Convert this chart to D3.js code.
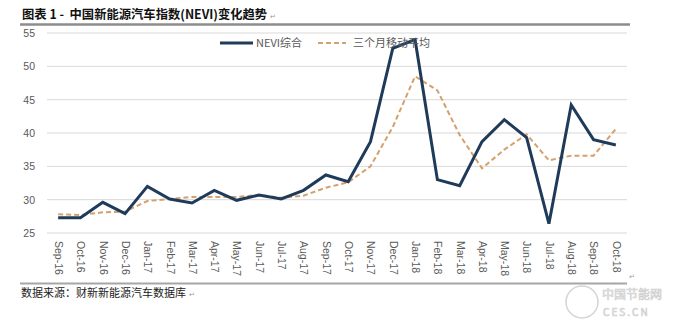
<!DOCTYPE html>
<html><head><meta charset="utf-8">
<script src="https://cdn.jsdelivr.net/npm/d3@7"></script>
<style>body{margin:0;background:#fff;} svg{display:block;font-family:"Noto Sans CJK SC","Liberation Sans",sans-serif;}</style>
</head><body>
<svg id="c" width="681" height="327"></svg>
<script>
const months = ["Sep-16","Oct-16","Nov-16","Dec-16","Jan-17","Feb-17","Mar-17","Apr-17","May-17","Jun-17","Jul-17","Aug-17","Sep-17","Oct-17","Nov-17","Dec-17","Jan-18","Feb-18","Mar-18","Apr-18","May-18","Jun-18","Jul-18","Aug-18","Sep-18","Oct-18"];
const nevi = [27.3,27.3,29.6,27.9,32.0,30.1,29.5,31.4,29.9,30.7,30.1,31.4,33.7,32.7,38.7,52.7,54.0,33.0,32.1,38.7,42.0,39.3,26.4,44.2,39.0,38.2];
const ma3 = [27.8,27.7,28.1,28.2,29.8,30.1,30.4,30.4,30.4,30.7,30.3,30.6,31.8,32.6,35.0,40.9,48.5,46.4,39.7,34.7,37.5,39.8,35.9,36.6,36.6,40.6];
const yTicks = [25,30,35,40,45,50,55];
const seriesNames = ["NEVI综合","三个月移动平均"];

(function(){
const svg = d3.select("#c");
const pL = 47, pR = 627, pT = 33, pB = 233;
const x = d3.scalePoint().domain(months).range([pL, pR]).padding(0.5);
const y = d3.scaleLinear().domain([25,55]).range([pB, pT]);

// title
const t = svg.append("text").attr("x",22).attr("y",19).attr("font-size",12.3).attr("font-weight","bold").attr("fill","#111")
  .style("white-space","pre").text("图表 1 -  中国新能源汽车指数(NEVI)变化趋势");
const tw = t.node().getComputedTextLength();
svg.append("text").attr("x",22+tw+3).attr("y",19).attr("font-size",7).attr("fill","#999").text("↵");
svg.append("line").attr("x1",20).attr("x2",630).attr("y1",24.5).attr("y2",24.5).attr("stroke","#8c8c8c").attr("stroke-width",2.5);

// grid
svg.append("g").selectAll("line").data(yTicks).join("line")
  .attr("x1",pL).attr("x2",pR).attr("y1",d=>y(d)).attr("y2",d=>y(d))
  .attr("stroke","#d9d9d9").attr("stroke-width",1);

// y axis labels
const ya = svg.append("g").attr("transform",`translate(${pL-12},0)`)
  .call(d3.axisLeft(y).tickValues(yTicks).tickSize(0).tickPadding(0));
ya.select(".domain").remove();
ya.selectAll("text").attr("font-size",10.5).attr("fill","#595959").attr("font-family","Liberation Sans, sans-serif");

// x axis labels
const xa = svg.append("g").attr("transform",`translate(0,${pB})`)
  .call(d3.axisBottom(x).tickSize(0).tickPadding(0));
xa.select(".domain").remove();
xa.selectAll("text").attr("font-size",10.5).attr("fill","#595959").attr("font-family","Liberation Sans, sans-serif")
  .attr("transform","rotate(90)").attr("text-anchor","start").attr("dy","0.35em").attr("x",8).attr("y",0);

// lines
const line = d3.line().x((d,i)=>x(months[i])).y(d=>y(d));
svg.append("path").datum(ma3).attr("d",line).attr("fill","none")
  .attr("stroke","#d4a06e").attr("stroke-width",2).attr("stroke-dasharray","5,3");
svg.append("path").datum(nevi).attr("d",line).attr("fill","none")
  .attr("stroke","#1f3b5a").attr("stroke-width",3).attr("stroke-linejoin","miter");

// legend
const lg = svg.append("g");
lg.append("line").attr("x1",220).attr("x2",253).attr("y1",43).attr("y2",43).attr("stroke","#1f3b5a").attr("stroke-width",3);
lg.append("text").attr("x",256).attr("y",47).attr("font-size",11).attr("fill","#595959").text(seriesNames[0]);
lg.append("line").attr("x1",318).attr("x2",346).attr("y1",43).attr("y2",43).attr("stroke","#d4a06e").attr("stroke-width",2).attr("stroke-dasharray","5,3");
lg.append("text").attr("x",353).attr("y",47).attr("font-size",11).attr("fill","#595959").text(seriesNames[1]);

// bottom rule and source
svg.append("line").attr("x1",20).attr("x2",627).attr("y1",283.5).attr("y2",283.5).attr("stroke","#a6a6a6").attr("stroke-width",2);
svg.append("text").attr("x",629).attr("y",279).attr("font-size",7).attr("fill","#999").text("↵");
const f = svg.append("text").attr("x",21).attr("y",297).attr("font-size",11).attr("fill","#222").text("数据来源：财新新能源汽车数据库");
const fw = f.node().getComputedTextLength();
svg.append("text").attr("x",21+fw+3).attr("y",297).attr("font-size",7).attr("fill","#999").text("↵");

// watermark
const wm = svg.append("g").attr("opacity",0.35);
wm.append("circle").attr("cx",582).attr("cy",302).attr("r",16).attr("fill","none").attr("stroke","#888").attr("stroke-width",1.5);
wm.append("text").attr("x",602).attr("y",299).attr("font-size",12).attr("fill","none").attr("stroke","#777").attr("stroke-width",0.7).text("中国节能网");
wm.append("text").attr("x",603).attr("y",316).attr("font-size",10).attr("fill","none").attr("stroke","#777").attr("stroke-width",0.7).attr("letter-spacing",2).text("CES.CN");
})();
</script>
</body></html>
